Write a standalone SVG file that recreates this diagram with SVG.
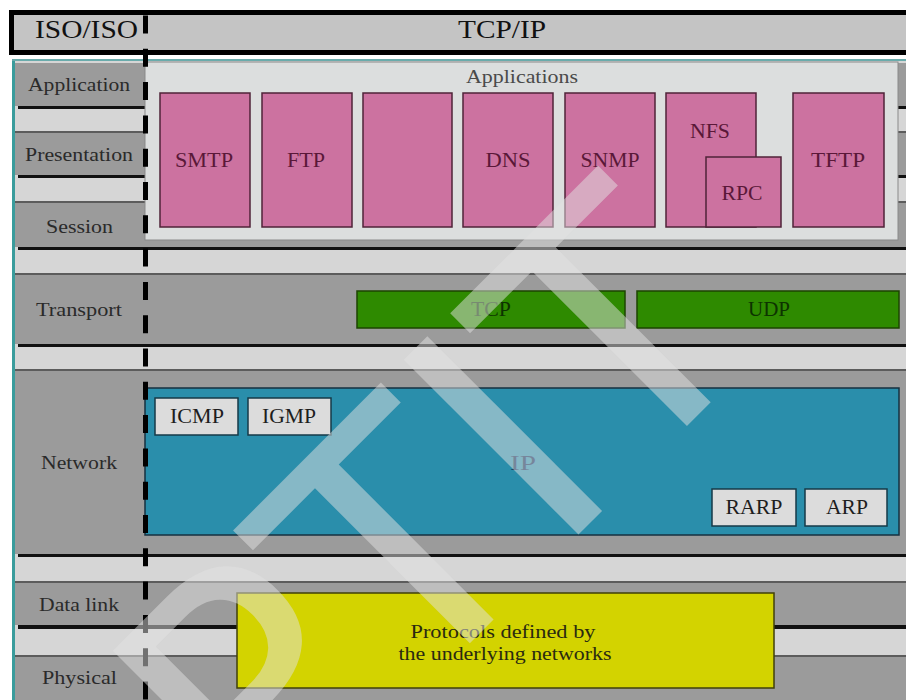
<svg xmlns="http://www.w3.org/2000/svg" width="906" height="700" viewBox="0 0 906 700">
<style>
.row{fill:#9b9b9b}
.sh{fill:#111}
.tl{fill:#5c5c5c}
.t{font-family:"Liberation Serif","Times New Roman",serif}
.lbl{font-size:19.5px;fill:#2a2a2a}
.hd{font-size:25px;fill:#111}
.app{fill:#cc72a0;stroke:#4f2338;stroke-width:1.5}
.at{font-size:20px;fill:#5a1838;text-anchor:middle}
.tp{fill:#2e8a00;stroke:#1c4400;stroke-width:1.5}
.tt{font-size:20px;fill:#0d3300;text-anchor:middle}
.nb{fill:#dcdcdc;stroke:#163a48;stroke-width:1.5}
.nt{font-size:20px;fill:#1e1e1e;text-anchor:middle}
</style>
<rect width="906" height="700" fill="#ffffff"/>
<g id="header">
<rect x="11.5" y="12.5" width="900" height="40" fill="#c4c4c4" stroke="#000" stroke-width="5"/>
<text class="t hd" x="35" y="38" textLength="103" lengthAdjust="spacingAndGlyphs">ISO/ISO</text>
<text class="t hd" x="458" y="38" textLength="88" lengthAdjust="spacingAndGlyphs">TCP/IP</text>
</g>
<g id="body">
<rect x="13" y="59" width="893" height="641" fill="#d6d6d6"/>
<rect x="12" y="59" width="3" height="641" fill="#3a9c9c"/>
<rect x="12" y="59" width="894" height="2" fill="#6aacac"/>
</g>
<g id="rows">
<rect class="row" x="15" y="63" width="891" height="43"/>
<rect class="sh" x="18" y="106" width="888" height="3"/>
<rect class="tl" x="15" y="131" width="891" height="2"/>
<rect class="row" x="15" y="133" width="891" height="42"/>
<rect class="sh" x="18" y="175" width="888" height="3"/>
<rect class="tl" x="15" y="201" width="891" height="2"/>
<rect class="row" x="15" y="203" width="891" height="44"/>
<rect class="sh" x="18" y="247" width="888" height="3"/>
<rect class="tl" x="15" y="273" width="891" height="2"/>
<rect class="row" x="15" y="275" width="891" height="69"/>
<rect class="sh" x="18" y="344" width="888" height="3"/>
<rect class="tl" x="15" y="369" width="891" height="2"/>
<rect class="row" x="15" y="371" width="891" height="183"/>
<rect class="sh" x="18" y="554" width="888" height="3"/>
<rect class="tl" x="15" y="581" width="891" height="2"/>
<rect class="row" x="15" y="583" width="891" height="42"/>
<rect class="sh" x="18" y="625" width="888" height="4"/>
<rect class="tl" x="15" y="655" width="891" height="2"/>
<rect class="row" x="15" y="657" width="891" height="43"/>
</g>
<g id="layer-labels">
<text class="t lbl" x="28" y="91" textLength="102" lengthAdjust="spacingAndGlyphs">Application</text>
<text class="t lbl" x="25" y="161" textLength="108" lengthAdjust="spacingAndGlyphs">Presentation</text>
<text class="t lbl" x="46" y="233" textLength="67" lengthAdjust="spacingAndGlyphs">Session</text>
<text class="t lbl" x="36" y="316" textLength="86" lengthAdjust="spacingAndGlyphs">Transport</text>
<text class="t lbl" x="41" y="469" textLength="76" lengthAdjust="spacingAndGlyphs">Network</text>
<text class="t lbl" x="39" y="611" textLength="80" lengthAdjust="spacingAndGlyphs">Data link</text>
<text class="t lbl" x="42" y="684" textLength="75" lengthAdjust="spacingAndGlyphs">Physical</text>
</g>
<g id="applications">
<rect x="145" y="62" width="753" height="178" fill="#dcdede" stroke="#8a8a8a" stroke-width="1"/>
<text class="t" x="466" y="83" font-size="19" fill="#4a4a4a" textLength="112" lengthAdjust="spacingAndGlyphs">Applications</text>
</g>
<g id="smtp"><rect class="app" x="160" y="93" width="90" height="134"/><text class="t at" x="204" y="167" textLength="58" lengthAdjust="spacingAndGlyphs">SMTP</text></g>
<g id="ftp"><rect class="app" x="262" y="93" width="90" height="134"/><text class="t at" x="306" y="167" textLength="38" lengthAdjust="spacingAndGlyphs">FTP</text></g>
<g id="blank"><rect class="app" x="363" y="93" width="89" height="134"/></g>
<g id="dns"><rect class="app" x="463" y="93" width="90" height="134"/><text class="t at" x="508" y="167" textLength="45" lengthAdjust="spacingAndGlyphs">DNS</text></g>
<g id="snmp"><rect class="app" x="565" y="93" width="90" height="134"/><text class="t at" x="610" y="167" textLength="59" lengthAdjust="spacingAndGlyphs">SNMP</text></g>
<g id="nfs"><rect class="app" x="666" y="93" width="90" height="134"/><text class="t at" x="710" y="138" textLength="40" lengthAdjust="spacingAndGlyphs">NFS</text></g>
<g id="rpc"><rect class="app" x="706" y="157" width="75" height="70"/><text class="t at" x="742" y="200" textLength="41" lengthAdjust="spacingAndGlyphs">RPC</text></g>
<g id="tftp"><rect class="app" x="793" y="93" width="91" height="134"/><text class="t at" x="838" y="167" textLength="54" lengthAdjust="spacingAndGlyphs">TFTP</text></g>
<g id="tcp"><rect class="tp" x="357" y="291" width="268" height="37"/><text class="t tt" x="491" y="316" textLength="40" lengthAdjust="spacingAndGlyphs">TCP</text></g>
<g id="udp"><rect class="tp" x="637" y="291" width="262" height="37"/><text class="t tt" x="769" y="316" textLength="42" lengthAdjust="spacingAndGlyphs">UDP</text></g>
<g id="ip"><rect x="145" y="388" width="754" height="147" fill="#2a8eab" stroke="#163040" stroke-width="1.5"/><text class="t" x="523" y="470" font-size="22" fill="#0a2a55" text-anchor="middle" textLength="26" lengthAdjust="spacingAndGlyphs">IP</text></g>
<g id="icmp"><rect class="nb" x="155" y="398" width="83" height="37"/><text class="t nt" x="197" y="423" textLength="54" lengthAdjust="spacingAndGlyphs">ICMP</text></g>
<g id="igmp"><rect class="nb" x="248" y="398" width="83" height="37"/><text class="t nt" x="289" y="423" textLength="54" lengthAdjust="spacingAndGlyphs">IGMP</text></g>
<g id="rarp"><rect class="nb" x="712" y="489" width="84" height="37"/><text class="t nt" x="754" y="514" textLength="57" lengthAdjust="spacingAndGlyphs">RARP</text></g>
<g id="arp"><rect class="nb" x="805" y="489" width="82" height="37"/><text class="t nt" x="847" y="514" textLength="42" lengthAdjust="spacingAndGlyphs">ARP</text></g>
<g id="underlying"><rect x="237" y="593" width="537" height="95" fill="#d3d300" stroke="#40400a" stroke-width="1.5"/>
<text class="t" x="503" y="638" font-size="19" fill="#2a2a10" text-anchor="middle" textLength="185" lengthAdjust="spacingAndGlyphs">Protocols defined by</text>
<text class="t" x="505" y="660" font-size="19" fill="#2a2a10" text-anchor="middle" textLength="213" lengthAdjust="spacingAndGlyphs">the underlying networks</text>
</g>
<g id="connectors">
<line x1="145.5" y1="15.5" x2="145.5" y2="700" stroke="#000" stroke-width="5" stroke-dasharray="18 15.3"/>
</g>
<g id="watermark">
<text transform="translate(518 595) rotate(-45)" x="0" y="0" font-family="'DejaVu Sans',sans-serif" font-size="339" fill="#e2e2e2" fill-opacity="0.5" text-anchor="middle">PTIT</text>
</g>
</svg>
